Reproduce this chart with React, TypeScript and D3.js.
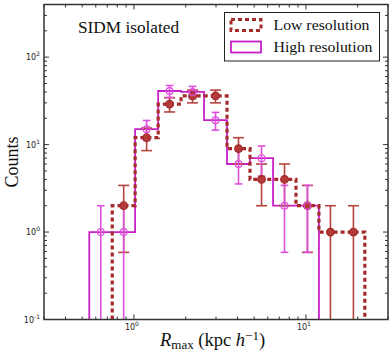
import React from "react";
import * as d3 from "d3";

const binEdges = [0.55, 0.748, 1.016, 1.383, 1.879, 2.556, 3.477, 4.73, 6.44, 8.75, 11.9, 16.2, 22.0];
const lowCounts = [0, 2, 12, 29, 36, 36, 9, 4, 4, 2, 1, 1];
const highCounts = [1, 1, 15, 41, 40, 19, 6, 7, 2, 2, 0, 0];
const xMajorTicks = [1, 10];
const xMinorTicks = [0.3, 0.4, 0.5, 0.6, 0.7, 0.8, 0.9, 2, 3, 4, 5, 6, 7, 8, 9, 20, 30];
const yMajorTicks = [0.1, 1, 10, 100];
const yMinorTicks = [0.2, 0.3, 0.4, 0.5, 0.6, 0.7, 0.8, 0.9, 2, 3, 4, 5, 6, 7, 8, 9, 20, 30, 40, 50, 60, 70, 80, 90, 200, 300];
const seriesNames = ["Low resolution", "High resolution"];
const titleText = "SIDM isolated";

const W = 392, H = 358;
const L = 44, R = 388, T = 4.5, B = 319.5;
const LOW = "#a52a2a";
const LOW_ERR = "#b5443f";
const HIGH = "#c920c9";
const HIGH_ERR = "#dd4fdd";

export default function App() {
  const x = d3.scaleLog().domain([0.3, 30]).range([L, R]);
  const y = d3.scaleLog().domain([0.1, 400]).range([B, T]);
  const yc = (v: number) => (v <= 0.1 ? B : y(v));

  const stepPath = (counts: number[]) => {
    let first = counts.findIndex((c) => c > 0);
    let last = counts.length - 1;
    while (last >= 0 && counts[last] <= 0) last--;
    let d = `M${x(binEdges[first])},${B}`;
    for (let i = first; i <= last; i++) {
      d += `L${x(binEdges[i])},${yc(counts[i])}L${x(binEdges[i + 1])},${yc(counts[i])}`;
    }
    d += `L${x(binEdges[last + 1])},${B}`;
    return d;
  };

  const centers = lowCounts.map((_, i) => Math.sqrt(binEdges[i] * binEdges[i + 1]));

  const errBars = (counts: number[], color: string, cap: number, key: string) =>
    counts.map((c, i) => {
      if (c <= 0) return null;
      const e = Math.sqrt(c);
      const cx = x(centers[i]);
      const y1 = yc(c + e);
      const y0 = yc(c - e);
      return (
        <g key={key + i} stroke={color} strokeWidth={1.6}>
          <line x1={cx} x2={cx} y1={y0} y2={y1} />
          <line x1={cx - cap} x2={cx + cap} y1={y1} y2={y1} />
          {c - e > 0.1 && <line x1={cx - cap} x2={cx + cap} y1={y0} y2={y0} />}
        </g>
      );
    });

  const ticks: React.ReactNode[] = [];
  xMajorTicks.forEach((t, i) => {
    ticks.push(<line key={"xm" + i} x1={x(t)} x2={x(t)} y1={B} y2={B - 5} />);
    ticks.push(<line key={"xmt" + i} x1={x(t)} x2={x(t)} y1={T} y2={T + 5} />);
  });
  xMinorTicks.forEach((t, i) => {
    ticks.push(<line key={"xn" + i} x1={x(t)} x2={x(t)} y1={B} y2={B - 3} />);
    ticks.push(<line key={"xnt" + i} x1={x(t)} x2={x(t)} y1={T} y2={T + 3} />);
  });
  yMajorTicks.forEach((t, i) => {
    ticks.push(<line key={"ym" + i} x1={L} x2={L + 5} y1={y(t)} y2={y(t)} />);
    ticks.push(<line key={"ymr" + i} x1={R} x2={R - 5} y1={y(t)} y2={y(t)} />);
  });
  yMinorTicks.forEach((t, i) => {
    ticks.push(<line key={"yn" + i} x1={L} x2={L + 3} y1={y(t)} y2={y(t)} />);
    ticks.push(<line key={"ynr" + i} x1={R} x2={R - 3} y1={y(t)} y2={y(t)} />);
  });

  const expo = (t: number) => String(Math.round(Math.log10(t)));
  const tickFont = "DejaVu Sans, sans-serif";
  const serif = "Liberation Serif, DejaVu Serif, serif";

  return (
    <svg width={W} height={H} style={{ position: "absolute", left: 0, top: 0, background: "#fff" }}>
      <rect x={0} y={0} width={W} height={H} fill="#fff" />
      {/* histograms */}
      <path d={stepPath(highCounts)} fill="none" stroke={HIGH} strokeWidth={1.8} />
      <path d={stepPath(lowCounts)} fill="none" stroke={LOW} strokeWidth={3.2} strokeDasharray="4,3" />
      {errBars(lowCounts, LOW_ERR, 5.5, "le")}
      {errBars(highCounts, HIGH_ERR, 3.8, "he")}
      {lowCounts.map((c, i) =>
        c > 0 ? (
          <circle key={"lm" + i} cx={x(centers[i])} cy={yc(c)} r={3.8} fill="#b23a3a" stroke={LOW} strokeWidth={1.2} />
        ) : null
      )}
      {highCounts.map((c, i) =>
        c > 0 ? (
          <circle key={"hm" + i} cx={x(centers[i])} cy={yc(c)} r={3.4} fill="none" stroke={HIGH_ERR} strokeWidth={1.2} />
        ) : null
      )}
      {/* axes frame */}
      <g stroke="#333" strokeWidth={1}>{ticks}</g>
      <rect x={L} y={T} width={R - L} height={B - T} fill="none" stroke="#333" strokeWidth={1.5} />
      {/* tick labels */}
      {xMajorTicks.map((t, i) => (
        <text key={"xl" + i} x={x(t) - 2} y={B + 10} textAnchor="middle" fontFamily={tickFont} fontSize={8} fill="#222">
          10<tspan dy={-4} fontSize={6}>{expo(t)}</tspan>
        </text>
      ))}
      {yMajorTicks.map((t, i) => (
        <text key={"yl" + i} x={40} y={y(t) + 3} textAnchor="end" fontFamily={tickFont} fontSize={8} fill="#222">
          10<tspan dy={-4} fontSize={6}>{expo(t)}</tspan>
        </text>
      ))}
      {/* title text */}
      <text x={78} y={33} fontFamily={serif} fontSize={16} textLength={101} lengthAdjust="spacingAndGlyphs" fill="#111">
        {titleText}
      </text>
      {/* legend */}
      <rect x={224.5} y={12.5} width={155} height={48.5} fill="#fff" stroke="#222" strokeWidth={1} />
      <rect x={231} y={19.5} width={30} height={11} fill="none" stroke={LOW} strokeWidth={3} strokeDasharray="4,3" />
      <rect x={231} y={41.5} width={30} height={11} fill="none" stroke={HIGH} strokeWidth={1.8} />
      <text x={273.5} y={30} fontFamily={serif} fontSize={15} textLength={96} lengthAdjust="spacingAndGlyphs" fill="#111">
        {seriesNames[0]}
      </text>
      <text x={273.5} y={52} fontFamily={serif} fontSize={15} textLength={99} lengthAdjust="spacingAndGlyphs" fill="#111">
        {seriesNames[1]}
      </text>
      {/* axis labels */}
      <text transform={`translate(18,162) rotate(-90)`} textAnchor="middle" fontFamily={serif} fontSize={18} fill="#111">
        Counts
      </text>
      <text x={160} y={346} fontFamily={serif} fontSize={18.5} fill="#111">
        <tspan fontStyle="italic">R</tspan>
        <tspan dy={3} fontSize={13}>max</tspan>
        <tspan dy={-3}> (kpc </tspan>
        <tspan fontStyle="italic">h</tspan>
        <tspan dy={-6.5} fontSize={13}>−1</tspan>
        <tspan dy={6.5}>)</tspan>
      </text>
    </svg>
  );
}
